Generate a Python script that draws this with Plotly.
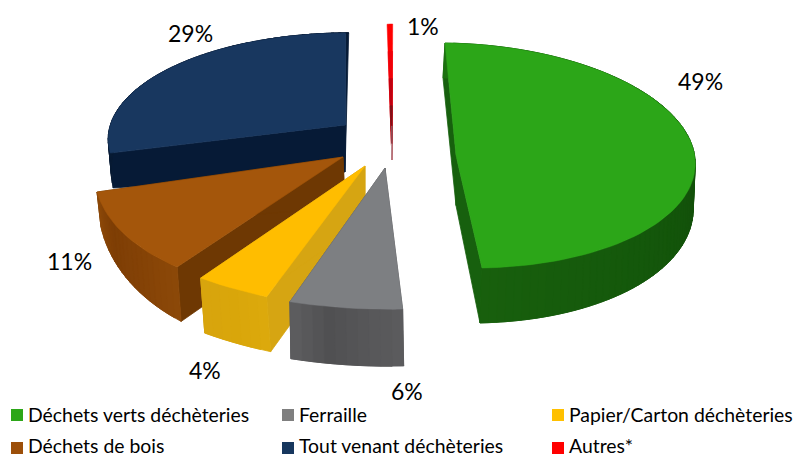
import math
import plotly.graph_objects as go

# ---- data ----
categories = ["Déchets verts déchèteries", "Ferraille", "Papier/Carton déchèteries",
              "Déchets de bois", "Tout venant déchèteries", "Autres*"]
values = [49, 6, 4, 11, 29, 1]

# ---- styles ----
swatch_colors = ["#2ca618", "#7f7f7f", "#ffc000", "#9c4f0a", "#17375e", "#ff0000"]
top_stops = [
    [(1, "#2ca618")],
    [(1, "#7d7f82")],
    [(1, "#ffbd00")],
    [(1, "#a4560b")],
    [(1, "#18375f")],
    [(1, "#ff0000"), (0.8, "#f00008"), (0.6, "#c00010"), (0.4, "#801018"), (0.25, "#90606a"), (0.12, "#d8c8cc")],
]
wall_stops = [
    ["#1c7210", "#14580b", "#124e09", "#14580b", "#185f0d"],
    ["#5c5c5e", "#565658", "#505052", "#5e5e60"],
    ["#dca90c", "#d9a60a", "#d8a50e"],
    ["#8c4808", "#844206", "#7e3e05", "#8c4808"],
    ["#071a33", "#071a33"],
    ["#b00010", "#b00010"],
]
face_colors = ["#17600e", "#5a5a5c", "#d6a512", "#6e3803", "#061a36", "#b00010"]

# ---- layout of each slice: centre, 2x2 view matrix, perspective, wall offsets (pixels) ----
pose_center = [(456, 155.5), (385, 168), (365, 166), (343, 157), (345.7, 125), (392, 160)]
pose_matrix = [(239, 11, 3, 112.5), (303.3, -1.4, 1.9, 141.2), (294.4, -7.7, 15.3, 142.4),
               (245.4, -40.7, 7.0, 134.8), (233.6, -14.7, 5, 103), (90, -0.7, 0, 136)]
pose_persp = [0, 0, 0, 0, -0.12, 0]
wall_apex = [(0, 50), (1, 57), (0, 55), (2, 50), (-0.7, 47), (0, 0)]
wall_rim = [(-2, 45, 10), (1, 57, 0), (4, 55, 0), (4, 24, 36), (3, 25, 32), (0, 0, 0)]
draw_order = [4, 5, 3, 2, 1, 0]

label_pos = [(700, 81), (407, 391), (205, 370), (69, 261), (190, 33), (423, 26)]
swatch_pos = [(17, 415), (288, 415), (558, 415), (17, 448), (288, 448), (558, 448)]
legend_text_y = [414, 414, 414, 445, 445, 445]
legend_text_gap = 9


def lerp_color(c1, c2, t):
    a = [int(c1[i:i + 2], 16) for i in (1, 3, 5)]
    b = [int(c2[i:i + 2], 16) for i in (1, 3, 5)]
    return "#%02x%02x%02x" % tuple(round(x + (y - x) * t) for x, y in zip(a, b))


def color_at(stops, t):
    if len(stops) == 1:
        return stops[0]
    p = t * (len(stops) - 1)
    i = min(int(p), len(stops) - 2)
    return lerp_color(stops[i], stops[i + 1], p - i)


fig = go.Figure()


def poly(xs, ys, color, width=0.8):
    fig.add_trace(go.Scatter(x=xs + xs[:1], y=ys + ys[:1], mode="lines", fill="toself",
                             fillcolor=color, line=dict(color=color, width=width),
                             hoverinfo="skip", showlegend=False))


total = sum(values)
spans = []
cum = 0
for v in values:
    spans.append((cum / total * 360, (cum + v) / total * 360))
    cum += v


def unit(a):
    r = math.radians(a)
    return math.sin(r), -math.cos(r)


def top_pt(i, a, r=1.0):
    X, Y = unit(a)
    X, Y = X * r, Y * r
    A, B, D, E = pose_matrix[i]
    cx, cy = pose_center[i]
    w = 1 + pose_persp[i] * Y
    return cx + (A * X + B * Y) / w, cy + (D * X + E * Y) / w


def bottom_rim(i, a):
    X, Y = unit(a)
    x, y = top_pt(i, a)
    wx, wy, wk = wall_rim[i]
    return x + wx, y + max(0, wy + wk * Y)


for i in draw_order:
    a1, a2 = spans[i]
    cx, cy = pose_center[i]
    n = max(2, int((a2 - a1) / 2))
    angles = [a1 + (a2 - a1) * k / n for k in range(n + 1)]
    ax, ay = cx + wall_apex[i][0], cy + wall_apex[i][1]
    if i != 5:
        # radial faces
        for a in (a1, a2):
            tx, ty = top_pt(i, a)
            bx, by = bottom_rim(i, a)
            poly([cx, tx, bx, ax], [cy, ty, by, ay], face_colors[i])
        # outer wall as overlapping angular bands, so no seams show
        for k in range(n):
            end = min(k + 2, n)
            tops = [top_pt(i, angles[j]) for j in range(k, end + 1)]
            bots = [bottom_rim(i, angles[j]) for j in range(end, k - 1, -1)]
            c = color_at(wall_stops[i], (k + 0.5) / n)
            poly([p[0] for p in tops + bots], [p[1] for p in tops + bots], c)
    # top surface, drawn outer band first
    for r, c in top_stops[i]:
        pts = [top_pt(i, a, r) for a in angles]
        poly([cx] + [p[0] for p in pts], [cy] + [p[1] for p in pts], c, width=0.5)

# percent labels
for v, (x, y) in zip(values, label_pos):
    fig.add_annotation(x=x, y=y, text=f"{v}%", showarrow=False, xanchor="center", yanchor="middle",
                       font=dict(family="Lato", size=23, color="#000000"))

# legend
for name, color, (x, y), ty in zip(categories, swatch_colors, swatch_pos, legend_text_y):
    fig.add_trace(go.Scatter(x=[x], y=[y], mode="markers",
                             marker=dict(symbol="square", size=12, color=color),
                             hoverinfo="skip", showlegend=False, name=name))
    fig.add_annotation(x=x + legend_text_gap, y=ty, text=name, showarrow=False, xanchor="left",
                       yanchor="middle", font=dict(family="Lato", size=19.4, color="#000000"))

fig.update_layout(width=799, height=456, margin=dict(l=0, r=0, t=0, b=0),
                  paper_bgcolor="white", plot_bgcolor="white", showlegend=False,
                  xaxis=dict(range=[0, 799], visible=False, fixedrange=True),
                  yaxis=dict(range=[456, 0], visible=False, fixedrange=True))
fig.write_html("out.html", post_script="document.body.style.margin='0';",
               config={"displayModeBar": False})
